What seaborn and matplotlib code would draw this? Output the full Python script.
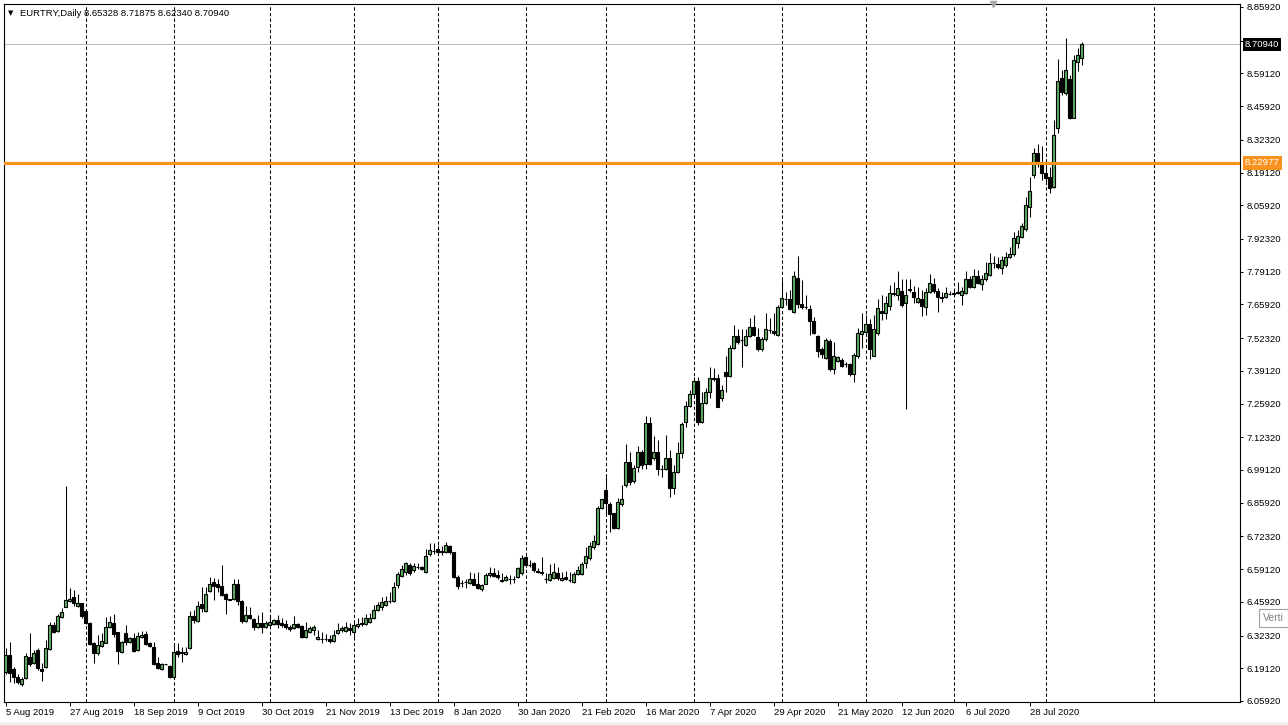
import matplotlib
matplotlib.use("Agg")
import matplotlib.pyplot as plt
import matplotlib.transforms as mtransforms
from matplotlib.patches import Rectangle
import numpy as np
import pandas as pd
import seaborn as sns

# ---------------- data (EURTRY daily candles) ----------------
opens = [6.175, 6.245, 6.187, 6.157, 6.126, 6.150, 6.235, 6.214, 6.265, 6.188,
         6.197, 6.269, 6.366, 6.343, 6.396, 6.440, 6.464, 6.480, 6.442, 6.453,
         6.421, 6.372, 6.292, 6.254, 6.281, 6.294, 6.356, 6.372, 6.336, 6.258,
         6.332, 6.298, 6.314, 6.265, 6.316, 6.329, 6.292, 6.278, 6.211, 6.188,
         6.208, 6.200, 6.154, 6.260, 6.255, 6.247, 6.271, 6.402, 6.382, 6.450,
         6.423, 6.504, 6.540, 6.531, 6.523, 6.490, 6.469, 6.469, 6.531, 6.462,
         6.383, 6.404, 6.390, 6.359, 6.375, 6.356, 6.365, 6.369, 6.386, 6.372,
         6.368, 6.356, 6.352, 6.369, 6.361, 6.316, 6.336, 6.345, 6.308, 6.310,
         6.311, 6.308, 6.302, 6.332, 6.345, 6.341, 6.352, 6.338, 6.361, 6.369,
         6.368, 6.379, 6.392, 6.426, 6.437, 6.446, 6.464, 6.462, 6.527, 6.563,
         6.581, 6.607, 6.587, 6.601, 6.598, 6.578, 6.652, 6.664, 6.671, 6.660,
         6.661, 6.684, 6.659, 6.558, 6.537, 6.540, 6.537, 6.550, 6.531, 6.511,
         6.533, 6.567, 6.577, 6.567, 6.547, 6.547, 6.550, 6.551, 6.558, 6.574,
         6.638, 6.607, 6.614, 6.584, 6.578, 6.553, 6.547, 6.556, 6.576, 6.549,
         6.560, 6.547, 6.540, 6.571, 6.571, 6.614, 6.634, 6.681, 6.692, 6.836,
         6.910, 6.853, 6.816, 6.755, 6.852, 6.930, 7.022, 6.946, 7.004, 7.062,
         7.017, 7.182, 7.038, 7.065, 6.997, 6.997, 7.038, 6.917, 6.984, 7.058,
         7.185, 7.249, 7.297, 7.350, 7.186, 7.263, 7.307, 7.361, 7.361, 7.280,
         7.388, 7.371, 7.482, 7.532, 7.516, 7.496, 7.532, 7.567, 7.527, 7.478,
         7.519, 7.556, 7.552, 7.536, 7.648, 7.680, 7.680, 7.630, 7.765, 7.661,
         7.648, 7.640, 7.594, 7.532, 7.478, 7.442, 7.513, 7.398, 7.432, 7.435,
         7.419, 7.419, 7.377, 7.449, 7.539, 7.549, 7.580, 7.451, 7.543, 7.634,
         7.623, 7.653, 7.704, 7.697, 7.715, 7.664, 7.720, 7.711, 7.670, 7.680,
         7.648, 7.711, 7.742, 7.715, 7.688, 7.688, 7.701, 7.704, 7.707, 7.697,
         7.707, 7.761, 7.731, 7.774, 7.742, 7.761, 7.778, 7.825, 7.822, 7.805,
         7.818, 7.849, 7.863, 7.906, 7.930, 7.962, 8.054, 8.182, 8.269, 8.229,
         8.191, 8.172, 8.134, 8.370, 8.572, 8.511, 8.568, 8.410, 8.639, 8.65328]
highs = [6.271, 6.296, 6.197, 6.168, 6.157, 6.254, 6.332, 6.265, 6.271, 6.211,
         6.305, 6.379, 6.379, 6.410, 6.433, 6.926, 6.514, 6.507, 6.491, 6.456,
         6.426, 6.379, 6.298, 6.325, 6.332, 6.399, 6.402, 6.409, 6.339, 6.302,
         6.366, 6.318, 6.332, 6.336, 6.341, 6.341, 6.298, 6.298, 6.238, 6.211,
         6.209, 6.204, 6.288, 6.291, 6.278, 6.275, 6.422, 6.426, 6.462, 6.520,
         6.520, 6.558, 6.554, 6.550, 6.607, 6.496, 6.470, 6.550, 6.550, 6.466,
         6.442, 6.439, 6.392, 6.406, 6.419, 6.383, 6.406, 6.388, 6.406, 6.392,
         6.386, 6.365, 6.402, 6.375, 6.365, 6.379, 6.361, 6.365, 6.345, 6.338,
         6.328, 6.325, 6.345, 6.375, 6.361, 6.379, 6.372, 6.386, 6.395, 6.399,
         6.408, 6.412, 6.446, 6.459, 6.477, 6.482, 6.500, 6.540, 6.581, 6.607,
         6.621, 6.617, 6.617, 6.614, 6.603, 6.671, 6.695, 6.695, 6.688, 6.684,
         6.702, 6.688, 6.661, 6.567, 6.547, 6.550, 6.581, 6.574, 6.581, 6.531,
         6.577, 6.601, 6.594, 6.587, 6.574, 6.567, 6.567, 6.563, 6.601, 6.648,
         6.644, 6.628, 6.621, 6.594, 6.641, 6.574, 6.610, 6.614, 6.601, 6.578,
         6.584, 6.580, 6.580, 6.603, 6.621, 6.681, 6.701, 6.728, 6.845, 6.876,
         6.961, 6.863, 6.818, 6.880, 6.930, 7.095, 7.065, 7.011, 7.089, 7.071,
         7.209, 7.206, 7.128, 7.112, 7.011, 7.132, 7.071, 7.011, 7.105, 7.186,
         7.270, 7.314, 7.368, 7.368, 7.307, 7.321, 7.406, 7.402, 7.379, 7.334,
         7.449, 7.496, 7.576, 7.559, 7.559, 7.559, 7.603, 7.617, 7.563, 7.527,
         7.623, 7.603, 7.626, 7.657, 7.758, 7.711, 7.718, 7.792, 7.855, 7.758,
         7.697, 7.657, 7.610, 7.536, 7.489, 7.523, 7.519, 7.509, 7.451, 7.442,
         7.428, 7.424, 7.462, 7.563, 7.623, 7.617, 7.599, 7.617, 7.680, 7.697,
         7.693, 7.738, 7.751, 7.792, 7.761, 7.761, 7.761, 7.734, 7.728, 7.718,
         7.724, 7.782, 7.765, 7.724, 7.711, 7.731, 7.715, 7.718, 7.751, 7.731,
         7.792, 7.774, 7.801, 7.796, 7.778, 7.832, 7.866, 7.855, 7.852, 7.855,
         7.872, 7.892, 7.953, 7.960, 7.987, 8.094, 8.172, 8.289, 8.307, 8.299,
         8.242, 8.215, 8.403, 8.648, 8.605, 8.733, 8.585, 8.665, 8.693, 8.71875]
lows = [6.168, 6.137, 6.130, 6.126, 6.119, 6.146, 6.200, 6.208, 6.184, 6.141,
        6.191, 6.265, 6.335, 6.337, 6.392, 6.437, 6.460, 6.442, 6.440, 6.392,
        6.370, 6.284, 6.214, 6.245, 6.278, 6.292, 6.353, 6.319, 6.207, 6.254,
        6.285, 6.294, 6.257, 6.261, 6.312, 6.285, 6.275, 6.204, 6.188, 6.185,
        6.206, 6.150, 6.150, 6.238, 6.215, 6.244, 6.267, 6.375, 6.377, 6.419,
        6.419, 6.500, 6.466, 6.500, 6.482, 6.410, 6.466, 6.466, 6.446, 6.375,
        6.379, 6.391, 6.345, 6.355, 6.334, 6.352, 6.361, 6.365, 6.352, 6.359,
        6.348, 6.341, 6.348, 6.355, 6.313, 6.314, 6.332, 6.325, 6.305, 6.294,
        6.302, 6.294, 6.298, 6.329, 6.338, 6.338, 6.325, 6.318, 6.352, 6.361,
        6.365, 6.375, 6.388, 6.423, 6.426, 6.442, 6.453, 6.459, 6.513, 6.558,
        6.567, 6.567, 6.581, 6.590, 6.587, 6.574, 6.644, 6.654, 6.654, 6.650,
        6.657, 6.654, 6.554, 6.509, 6.520, 6.513, 6.533, 6.527, 6.511, 6.504,
        6.531, 6.560, 6.558, 6.550, 6.540, 6.544, 6.533, 6.536, 6.554, 6.567,
        6.601, 6.601, 6.581, 6.574, 6.567, 6.536, 6.543, 6.552, 6.547, 6.544,
        6.547, 6.540, 6.537, 6.567, 6.567, 6.594, 6.627, 6.674, 6.688, 6.832,
        6.809, 6.742, 6.751, 6.751, 6.845, 6.921, 6.930, 6.939, 6.984, 6.997,
        6.997, 7.011, 7.031, 6.970, 6.961, 6.991, 6.883, 6.894, 6.977, 7.038,
        7.165, 7.246, 7.290, 7.173, 7.182, 7.258, 7.280, 7.352, 7.244, 7.271,
        7.307, 7.365, 7.478, 7.500, 7.406, 7.492, 7.527, 7.532, 7.473, 7.473,
        7.513, 7.543, 7.536, 7.532, 7.644, 7.657, 7.637, 7.626, 7.643, 7.640,
        7.640, 7.536, 7.540, 7.446, 7.442, 7.438, 7.392, 7.379, 7.428, 7.406,
        7.408, 7.371, 7.348, 7.442, 7.482, 7.545, 7.438, 7.449, 7.536, 7.597,
        7.599, 7.637, 7.693, 7.675, 7.648, 7.236, 7.711, 7.666, 7.664, 7.613,
        7.617, 7.704, 7.707, 7.630, 7.670, 7.684, 7.697, 7.697, 7.701, 7.657,
        7.701, 7.724, 7.724, 7.742, 7.718, 7.755, 7.774, 7.805, 7.801, 7.782,
        7.812, 7.845, 7.855, 7.886, 7.926, 7.957, 8.013, 8.168, 8.215, 8.161,
        8.148, 8.108, 8.128, 8.352, 8.504, 8.504, 8.406, 8.410, 8.599, 8.6234]
closes = [6.245, 6.171, 6.154, 6.136, 6.148, 6.241, 6.208, 6.254, 6.191, 6.181,
          6.271, 6.366, 6.339, 6.402, 6.417, 6.466, 6.470, 6.453, 6.456, 6.403,
          6.372, 6.288, 6.254, 6.285, 6.301, 6.356, 6.379, 6.329, 6.262, 6.296,
          6.298, 6.312, 6.261, 6.321, 6.325, 6.289, 6.281, 6.207, 6.191, 6.207,
          6.207, 6.157, 6.255, 6.250, 6.251, 6.256, 6.402, 6.386, 6.442, 6.433,
          6.490, 6.533, 6.524, 6.517, 6.486, 6.469, 6.468, 6.533, 6.464, 6.383,
          6.406, 6.395, 6.359, 6.375, 6.356, 6.375, 6.379, 6.386, 6.369, 6.364,
          6.359, 6.348, 6.368, 6.359, 6.316, 6.345, 6.352, 6.359, 6.316, 6.311,
          6.310, 6.302, 6.325, 6.345, 6.352, 6.359, 6.345, 6.365, 6.369, 6.372,
          6.392, 6.395, 6.426, 6.446, 6.459, 6.464, 6.463, 6.517, 6.571, 6.590,
          6.614, 6.577, 6.603, 6.600, 6.590, 6.645, 6.668, 6.663, 6.659, 6.664,
          6.687, 6.661, 6.560, 6.523, 6.536, 6.541, 6.550, 6.529, 6.513, 6.527,
          6.567, 6.577, 6.563, 6.558, 6.543, 6.558, 6.551, 6.550, 6.594, 6.634,
          6.607, 6.606, 6.587, 6.581, 6.574, 6.552, 6.571, 6.578, 6.557, 6.557,
          6.551, 6.546, 6.571, 6.587, 6.610, 6.644, 6.685, 6.704, 6.836, 6.872,
          6.856, 6.812, 6.755, 6.863, 6.876, 7.022, 6.944, 7.001, 7.062, 7.013,
          7.182, 7.017, 7.065, 6.997, 6.996, 7.038, 6.917, 6.984, 7.058, 7.176,
          7.249, 7.298, 7.350, 7.186, 7.260, 7.307, 7.361, 7.360, 7.247, 7.314,
          7.371, 7.482, 7.532, 7.509, 7.515, 7.532, 7.570, 7.536, 7.478, 7.519,
          7.559, 7.557, 7.543, 7.648, 7.684, 7.681, 7.640, 7.774, 7.661, 7.648,
          7.647, 7.594, 7.543, 7.473, 7.459, 7.516, 7.398, 7.451, 7.446, 7.411,
          7.418, 7.379, 7.457, 7.543, 7.552, 7.580, 7.478, 7.559, 7.644, 7.626,
          7.664, 7.704, 7.701, 7.724, 7.657, 7.697, 7.719, 7.688, 7.684, 7.653,
          7.711, 7.744, 7.715, 7.691, 7.687, 7.707, 7.702, 7.703, 7.708, 7.715,
          7.761, 7.731, 7.774, 7.747, 7.761, 7.787, 7.828, 7.826, 7.809, 7.839,
          7.849, 7.863, 7.926, 7.935, 7.976, 8.061, 8.118, 8.269, 8.229, 8.191,
          8.168, 8.128, 8.343, 8.562, 8.518, 8.603, 8.410, 8.646, 8.666, 8.7094]

date_labels = ["5 Aug 2019", "27 Aug 2019", "18 Sep 2019", "9 Oct 2019", "30 Oct 2019",
               "21 Nov 2019", "13 Dec 2019", "8 Jan 2020", "30 Jan 2020", "21 Feb 2020",
               "16 Mar 2020", "7 Apr 2020", "29 Apr 2020", "21 May 2020", "12 Jun 2020",
               "6 Jul 2020", "28 Jul 2020"]
date_label_bars = [0, 16, 32, 48, 64, 80, 96, 112, 128, 144, 160, 176, 192, 208, 224, 240, 256]
month_start_bars = [20, 42, 66, 87, 108, 130, 150, 172, 194, 215, 237, 260, 287]
price_tick_labels = ["8.85920", "8.72320", "8.59120", "8.45920", "8.32320", "8.19120",
                     "8.05920", "7.92320", "7.79120", "7.65920", "7.52320", "7.39120",
                     "7.25920", "7.12320", "6.99120", "6.85920", "6.72320", "6.59120",
                     "6.45920", "6.32320", "6.19120", "6.05920"]
bid_price = 8.70940
level_price = 8.22977
symbol_title = "EURTRY,Daily 8.65328 8.71875 8.62340 8.70940"
tooltip_text = "Verti"

# ---------------- styling ----------------
sns.set_theme(style="white")
plt.rcParams['font.family'] = ['Liberation Sans', 'DejaVu Sans']

W, H = 1288, 725
fig = plt.figure(figsize=(W / 100, H / 100), dpi=100, facecolor="white")
ax = fig.add_axes([4 / W, 23 / H, 1236 / W, 698 / H])
ax.set_facecolor("white")

df = pd.DataFrame({"open": opens, "high": highs, "low": lows, "close": closes})
df["bar"] = np.arange(len(df))
up = df["close"] >= df["open"]
bull_color = "#5fae5f"

# month separators
for b in month_start_bars:
    ax.axvline(b, color="black", lw=0.75, ls=(0, (3.2, 2.2)), zorder=1)

# bid line
ax.axhline(bid_price, color="#c0c0c0", lw=0.8, zorder=2)

# wicks
ax.vlines(df["bar"], df["low"], df["high"], color="black", lw=0.75, zorder=3)
# bodies
body_bottom = np.minimum(df["open"], df["close"])
body_height = (df["close"] - df["open"]).abs()
ax.bar(df["bar"], body_height, bottom=body_bottom, width=0.6,
       color=np.where(up, bull_color, "black"), edgecolor="black",
       linewidth=0.8, zorder=4)

# horizontal level
ax.axhline(level_price, color="#f7931e", lw=2.3, zorder=5)

# axes limits (1 bar = 4 px)
ax.set_xlim(-0.375, 308.625)
ax.set_ylim(6.0549, 8.8713)

for s in ax.spines.values():
    s.set_color("black")
    s.set_linewidth(0.8)

# y axis on right
ax.yaxis.tick_right()
ax.set_yticks([float(t) for t in price_tick_labels])
ax.set_yticklabels(price_tick_labels)
ax.tick_params(axis="y", direction="out", length=2.5, width=0.7, pad=2.5,
               labelsize=6.8, colors="black", right=True, left=False)

# x axis dates
ax.set_xticks(date_label_bars)
ax.set_xticklabels(date_labels)
ax.tick_params(axis="x", direction="out", length=3, width=0.7, pad=1.5,
               labelsize=6.8, colors="black", bottom=True)
for lbl in ax.get_xticklabels():
    lbl.set_horizontalalignment("left")
ax.grid(False)

# price tags on right axis
trans = mtransforms.blended_transform_factory(ax.transAxes, ax.transData)
ax.annotate("8.70940", xy=(1, bid_price), xycoords=trans, xytext=(5, 0),
            textcoords="offset pixels", ha="left", va="center", fontsize=6.8,
            color="white", annotation_clip=False, zorder=10,
            bbox=dict(boxstyle="square,pad=0.22", fc="black", ec="black", lw=0))
ax.annotate("8.22977", xy=(1, level_price), xycoords=trans, xytext=(5, 0),
            textcoords="offset pixels", ha="left", va="center", fontsize=6.8,
            color="white", annotation_clip=False, zorder=10,
            bbox=dict(boxstyle="square,pad=0.22", fc="#f7931e", ec="#f7931e", lw=0))

# title
fig.text(8 / W, 1 - 13 / H, "▼", family="DejaVu Sans", fontsize=5, va="center", ha="left", color="black")
fig.text(20 / W, 1 - 13 / H, symbol_title, fontsize=6.8, va="center", ha="left", color="black")

# chart shift marker
ax.plot([0.8], [1.0], marker="v", color="#a8a8a8", ms=5, transform=ax.transAxes,
        clip_on=False, zorder=6)

# tooltip (cut by the window edge in the original)
fig.text(1263 / W, 1 - 618 / H, tooltip_text, fontsize=7.5, color="#808080",
         va="center", ha="left",
         bbox=dict(boxstyle="square,pad=0.35", fc="white", ec="#a0a0a0", lw=0.8))

# bottom window strip
fig.patches.append(Rectangle((0, 0), 1, 3 / H, transform=fig.transFigure,
                             fc="#f0f0f0", ec="none", zorder=0))

fig.savefig("out.png", dpi=100, facecolor="white")
